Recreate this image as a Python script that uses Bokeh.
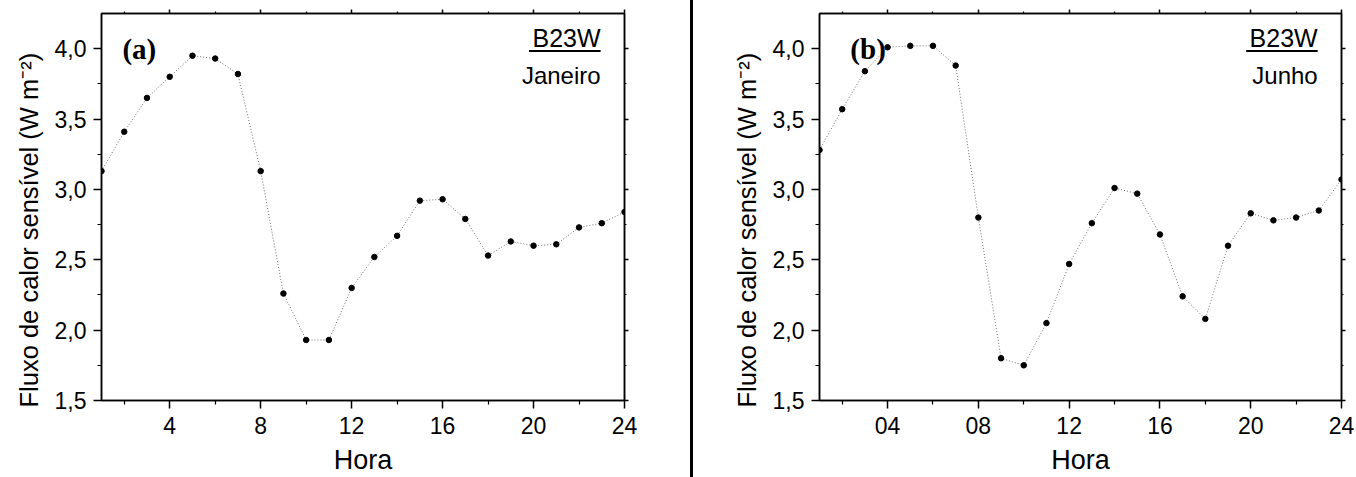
from bokeh.plotting import figure
from bokeh.models import (LinearAxis, FixedTicker, CustomJSTickFormatter, Label, Title,
                          BoxAnnotation, Div, Range1d)
from bokeh.layouts import row
from bokeh.embed import file_html
from bokeh.resources import INLINE

# hourly sensible heat flux, station B23W
hours = list(range(1, 25))
janeiro = [3.13, 3.41, 3.65, 3.80, 3.95, 3.93, 3.82, 3.13, 2.26, 1.93, 1.93, 2.30,
           2.52, 2.67, 2.92, 2.93, 2.79, 2.53, 2.63, 2.60, 2.61, 2.73, 2.76, 2.84]
junho = [3.28, 3.57, 3.84, 4.01, 4.02, 4.02, 3.88, 2.80, 1.80, 1.75, 2.05, 2.47,
         2.76, 3.01, 2.97, 2.68, 2.24, 2.08, 2.60, 2.83, 2.78, 2.80, 2.85, 3.07]

x_ticks = [4, 8, 12, 16, 20, 24]
x_minor = [2, 6, 10, 14, 18, 22]
y_ticks = [1.5, 2.0, 2.5, 3.0, 3.5, 4.0]
y_minor = [1.75, 2.25, 2.75, 3.25, 3.75]

FONT = "Liberation Sans"
H = 477
Y_LABEL = "Fluxo de calor sensível (W m⁻²)"


def style_axis(ax, labels=True):
    ax.axis_line_width = 1.5
    ax.major_tick_line_width = 1.5
    ax.minor_tick_line_width = 1.2
    ax.major_tick_in = 0
    ax.minor_tick_in = 0
    if labels:
        ax.major_tick_out = 8
        ax.minor_tick_out = 4
        ax.major_label_text_font = FONT
        ax.major_label_text_font_size = "23px"
        ax.major_label_text_color = "black"
        ax.major_label_standoff = 7
        ax.axis_label_text_font = FONT
        ax.axis_label_text_font_style = "normal"
        ax.axis_label_text_color = "black"
    else:
        ax.major_tick_out = 4
        ax.minor_tick_out = 2
        ax.major_label_text_font_size = "0px"
        ax.major_label_standoff = 0
        ax.formatter = CustomJSTickFormatter(code="return '';")


def make_panel(values, tag, tag_x, month, width, left, right, x_code):
    p = figure(width=width, height=H, x_range=Range1d(1, 24), y_range=Range1d(1.5, 4.25),
               x_axis_location=None, y_axis_location=None,
               output_backend="svg", toolbar_location=None,
               min_border_left=left, min_border_right=right,
               min_border_top=13, min_border_bottom=76)
    p.grid.visible = False
    p.outline_line_color = "black"
    p.outline_line_width = 1.5

    xb = LinearAxis(ticker=FixedTicker(ticks=x_ticks, minor_ticks=x_minor),
                    formatter=CustomJSTickFormatter(code=x_code), axis_label="Hora")
    style_axis(xb)
    xb.major_label_standoff = 8
    xb.axis_label_text_font_size = "27px"
    xb.axis_label_standoff = 8
    p.add_layout(xb, "below")

    yl = LinearAxis(ticker=FixedTicker(ticks=y_ticks, minor_ticks=y_minor),
                    formatter=CustomJSTickFormatter(code="return tick.toFixed(1).replace('.', ',');"))
    style_axis(yl)
    p.add_layout(yl, "left")

    xt = LinearAxis(ticker=FixedTicker(ticks=x_ticks, minor_ticks=x_minor))
    style_axis(xt, labels=False)
    p.add_layout(xt, "above")
    yr = LinearAxis(ticker=FixedTicker(ticks=y_ticks, minor_ticks=y_minor))
    style_axis(yr, labels=False)
    p.add_layout(yr, "right")

    # y title starts just below the frame bottom, as in the original
    p.add_layout(Title(text=Y_LABEL, align="left", offset=-7, standoff=18,
                       text_font=FONT, text_font_size="25.5px", text_font_style="normal",
                       text_color="black"), "left")

    p.line(hours, values, line_color="#6e6e6e", line_width=1, line_dash="1 2")
    p.scatter(hours, values, size=5.5, color="black")

    p.add_layout(Label(x=tag_x, y=3.995, text=tag, text_font="Liberation Serif",
                       text_font_style="bold", text_font_size="29px", text_color="black",
                       text_baseline="alphabetic"))
    p.add_layout(Label(x=22.95, y=4.073, text="B23W", text_font=FONT, text_font_size="25px",
                       text_align="right", text_baseline="alphabetic", text_color="black"))
    p.add_layout(BoxAnnotation(left=19.8, right=22.95, bottom=3.976, top=3.990,
                               fill_color="black", fill_alpha=1, line_alpha=0))
    p.add_layout(Label(x=22.95, y=3.811, text=month, text_font=FONT, text_font_size="24px",
                       text_align="right", text_baseline="alphabetic", text_color="black"))
    return p


p1 = make_panel(janeiro, "(a)", 1.92, "Janeiro", 690, 101, 66, "return '' + tick;")
p2 = make_panel(junho, "(b)", 2.36, "Junho", 663, 126, 15,
                "return tick < 10 ? '0' + tick : '' + tick;")
divider = Div(width=3, height=H, margin=0, styles={"background-color": "black"})

layout = row(p1, divider, p2, spacing=0)
open("out.html", "w").write(file_html(layout, INLINE))
